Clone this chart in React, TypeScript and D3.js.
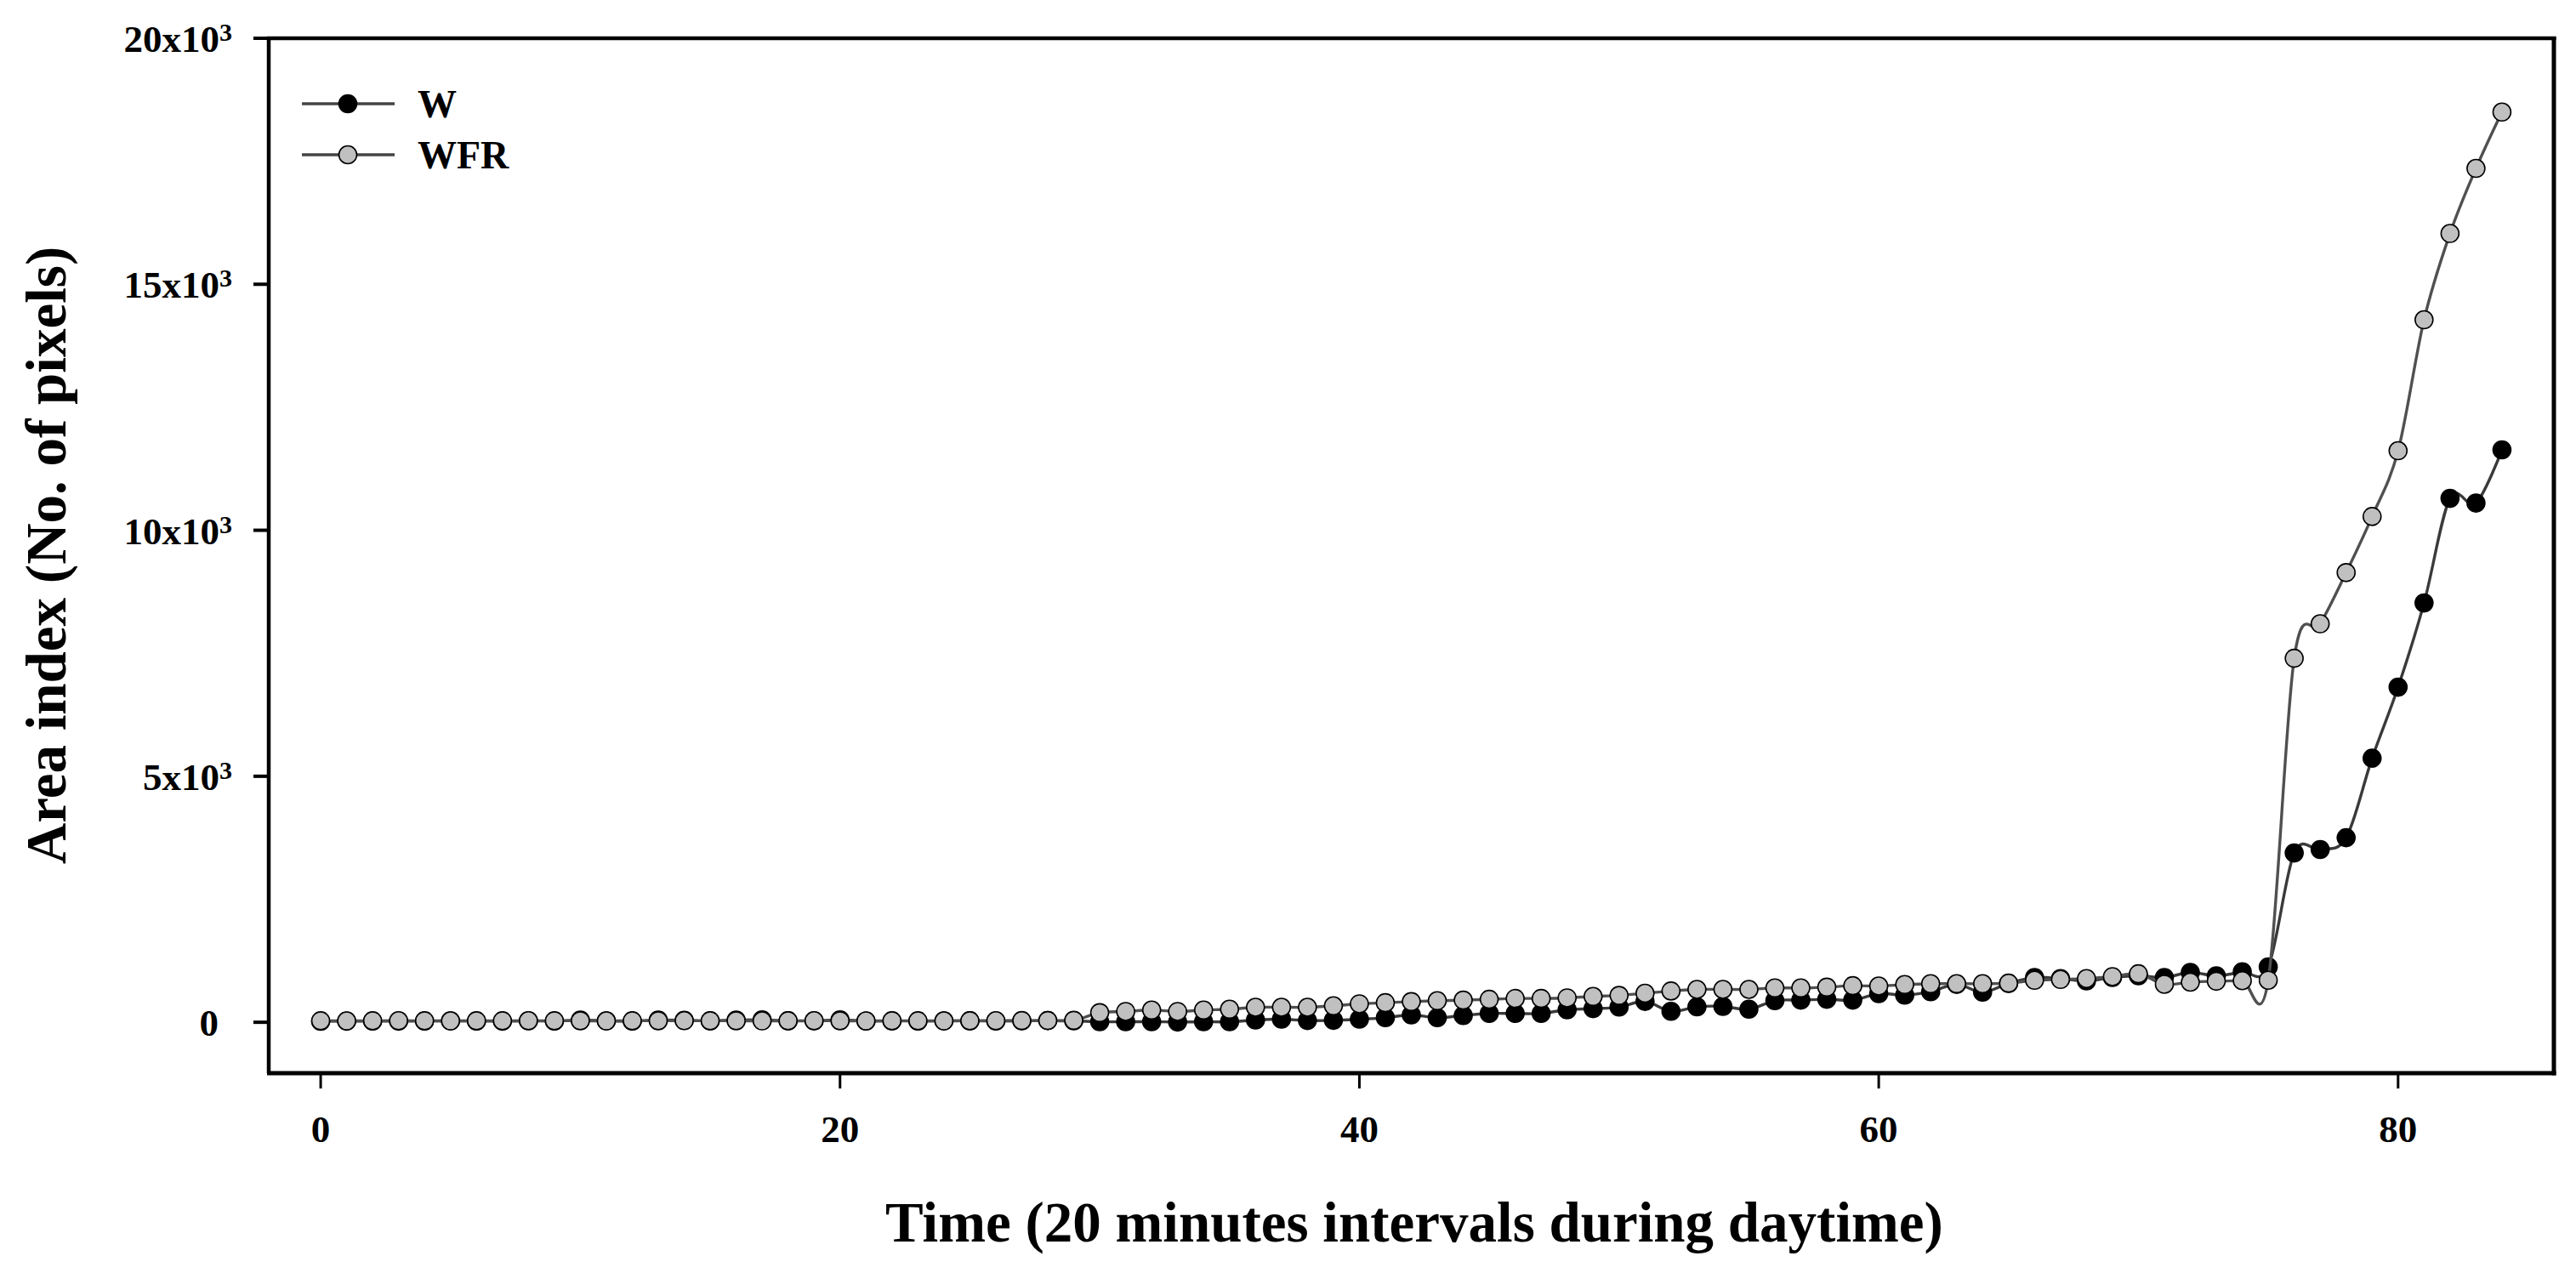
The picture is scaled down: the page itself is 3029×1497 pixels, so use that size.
import React from "react";
import * as d3 from "d3";

const timeIdx: number[] = Array.from({ length: 85 }, (_, i) => i);

const wValues: number[] = [
  20, 22, 25, 22, 25, 28, 25, 22, 28, 25,
  45, 28, 25, 45, 40, 28, 45, 50, 30, 28,
  50, 25, 28, 25, 28, 30, 25, 28, 35, 30,
  10, 10, 12, 5, 10, 10, 46, 63, 35, 40,
  63, 92, 150, 92, 138, 179, 179, 179, 254, 277,
  308, 424, 222, 314, 323, 265, 438, 450, 467, 450,
  582, 553, 622, 770, 611, 790, 911, 888, 841, 911,
  945, 911, 1014, 945, 1025, 1124, 3440, 3512, 3751, 5367,
  6811, 8522, 10648, 10553, 11634,
];

const wfrValues: number[] = [
  30, 28, 30, 32, 30, 28, 30, 30, 32, 30,
  30, 28, 30, 30, 32, 30, 30, 28, 30, 32,
  30, 28, 30, 30, 28, 30, 32, 35, 35, 40,
  195, 219, 248, 219, 248, 265, 305, 305, 305, 334,
  375, 397, 420, 438, 450, 467, 484, 484, 496, 525,
  545, 590, 635, 668, 668, 668, 697, 697, 714, 743,
  737, 766, 784, 784, 784, 795, 853, 870, 888, 928,
  985, 772, 815, 835, 845, 854, 7398, 8099, 9140, 10280,
  11616, 14278, 16033, 17355, 18500,
];

const xTicks: number[] = [0, 20, 40, 60, 80];
const yTicks: number[] = [0, 5000, 10000, 15000, 20000];
const yTickBase: string[] = ["0", "5x10", "10x10", "15x10", "20x10"];
const yTickExp: string[] = ["", "3", "3", "3", "3"];

const seriesNames: string[] = ["W", "WFR"];

const FONT = "'Liberation Serif', 'Times New Roman', serif";

export default function App() {
  const W = 3029;
  const H = 1497;
  const left = 316, right = 3003, top = 45, bottom = 1262;

  const x = d3.scaleLinear().domain([-2, 86]).range([left, right]);
  const y = d3.scaleLinear().domain([-1000, 20000]).range([1260, top]);

  const line = d3
    .line<number>()
    .x((_, i) => x(timeIdx[i]))
    .y((d) => y(d))
    .curve(d3.curveCardinal.tension(0));

  const series = [
    { name: seriesNames[0], values: wValues, lineColor: "#3a3a3a", fill: "#000000" },
    { name: seriesNames[1], values: wfrValues, lineColor: "#505050", fill: "#c0c0c0" },
  ];

  return (
    <svg
      width={W}
      height={H}
      style={{ position: "absolute", left: 0, top: 0, background: "#fff" }}
      fontFamily={FONT}
    >
      <rect x={0} y={0} width={W} height={H} fill="#fff" />
      {series.map((s) => (
        <g key={s.name}>
          <path d={line(s.values) || ""} fill="none" stroke={s.lineColor} strokeWidth={3.4} />
          {s.values.map((v, i) => (
            <circle
              key={i}
              cx={x(timeIdx[i])}
              cy={y(v)}
              r={10.5}
              fill={s.fill}
              stroke="#000"
              strokeWidth={1.6}
            />
          ))}
        </g>
      ))}

      <line x1={left} y1={top} x2={left} y2={bottom} stroke="#000" strokeWidth={4.5} />
      <line x1={left - 2} y1={top} x2={right + 2.5} y2={top} stroke="#000" strokeWidth={4.5} />
      <line x1={right} y1={top - 2} x2={right} y2={bottom + 2.5} stroke="#000" strokeWidth={5} />
      <line x1={left - 2} y1={bottom} x2={right + 2.5} y2={bottom} stroke="#000" strokeWidth={5} />

      {yTicks.map((t, i) => (
        <g key={"y" + t}>
          <line x1={left - 18} x2={left} y1={y(t)} y2={y(t)} stroke="#000" strokeWidth={4} />
          <text
            x={yTickExp[i] ? 273 : 257}
            y={y(t) + 16}
            textAnchor="end"
            fontSize={45}
            fontWeight="bold"
          >
            {yTickBase[i]}
            {yTickExp[i] ? (
              <tspan fontSize={30} dy={-13}>
                {yTickExp[i]}
              </tspan>
            ) : null}
          </text>
        </g>
      ))}

      {xTicks.map((t) => (
        <g key={"x" + t}>
          <line x1={x(t)} x2={x(t)} y1={bottom} y2={bottom + 18} stroke="#000" strokeWidth={3} />
          <text x={x(t)} y={1343} textAnchor="middle" fontSize={45} fontWeight="bold">
            {t}
          </text>
        </g>
      ))}

      <text x={1663} y={1460} textAnchor="middle" fontSize={67} fontWeight="bold">
        Time (20 minutes intervals during daytime)
      </text>
      <text
        transform="translate(77,653) rotate(-90)"
        textAnchor="middle"
        fontSize={67}
        fontWeight="bold"
      >
        Area index (No. of pixels)
      </text>

      {series.map((s, i) => {
        const ly = 122 + i * 60;
        return (
          <g key={"lg" + s.name}>
            <line x1={355} x2={464} y1={ly} y2={ly} stroke="#444" strokeWidth={3.4} />
            <circle cx={409} cy={ly} r={10.5} fill={s.fill} stroke="#000" strokeWidth={1.6} />
            <text x={491} y={ly + 16} fontSize={46} fontWeight="bold">
              {s.name}
            </text>
          </g>
        );
      })}
    </svg>
  );
}
